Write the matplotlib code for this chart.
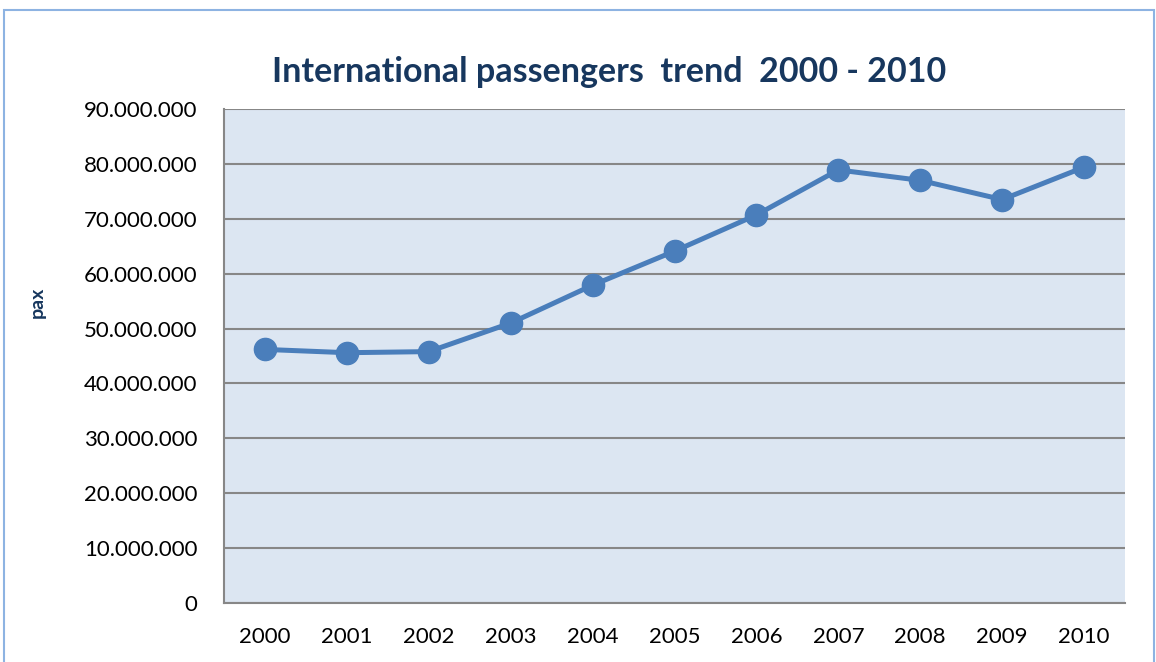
import matplotlib
matplotlib.use('Agg')

import matplotlib.pyplot as plt
from matplotlib.patches import Rectangle
from matplotlib.ticker import FuncFormatter


years = ['2000', '2001', '2002', '2003', '2004', '2005', '2006', '2007', '2008', '2009', '2010']
pax = [46200000, 45600000, 45800000, 51000000, 57900000, 64100000,
       70700000, 78900000, 77000000, 73500000, 79400000]

fig = plt.figure(figsize=(11.56, 6.62), dpi=100)
fig.patch.set_facecolor('white')

# outer chart border
fig.patches.append(Rectangle((4 / 1156, -0.05), 1150 / 1156, 1.05 - 10 / 662,
                             transform=fig.transFigure, fill=False,
                             edgecolor='#8DB3E2', linewidth=1.5))

ax = fig.add_axes([224 / 1156, 1 - 603 / 662, 901 / 1156, 494 / 662])
ax.set_facecolor('#DCE6F2')

ax.plot(range(len(years)), pax, '-o', color='#4A7EBB', linewidth=3.6,
        markersize=16, zorder=3)

ax.set_xlim(-0.5, len(years) - 0.5)
ax.set_ylim(0, 90000000)
ax.set_yticks(range(0, 90000001, 10000000))
ax.yaxis.set_major_formatter(FuncFormatter(lambda v, p: '{:,.0f}'.format(v).replace(',', '.')))
ax.set_xticks(range(len(years)))
ax.set_xticklabels(years)
ax.grid(axis='y', color='#878787', linewidth=1.5)
ax.set_axisbelow(True)
ax.tick_params(length=0, labelsize=16, labelcolor='black')
ax.tick_params(axis='y', pad=19)
ax.tick_params(axis='x', pad=17)
for lbl in ax.get_xticklabels() + ax.get_yticklabels():
    lbl.set_family('Lato')

for s in ['top', 'right']:
    ax.spines[s].set_visible(False)
for s in ['left', 'bottom']:
    ax.spines[s].set_color('#878787')
    ax.spines[s].set_linewidth(1.5)

fig.text(609 / 1156, 1 - 72 / 662, 'International passengers  trend  2000 - 2010',
         ha='center', va='center', fontsize=24.5, fontweight='bold',
         color='#17375E', family='Lato')
fig.text(37 / 1156, 1 - 302 / 662, 'pax', rotation=90, ha='center', va='center',
         fontsize=14, fontweight='bold', color='#17375E', family='Lato')

fig.savefig('out.png', dpi=100)
